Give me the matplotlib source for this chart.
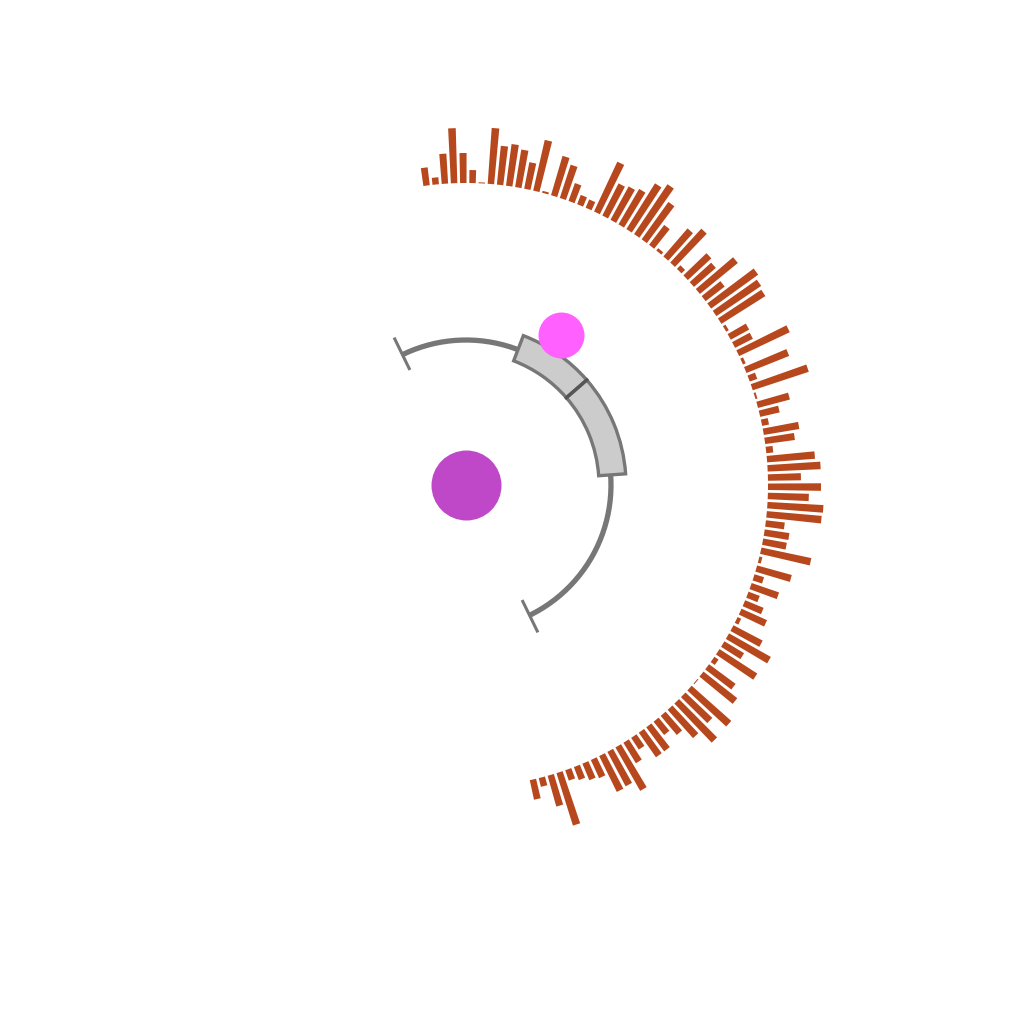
import numpy as np
import matplotlib
matplotlib.use("Agg")
import matplotlib.pyplot as plt

# outer track: bar heights (101 bins)
counts = [18, 7, 30, 55, 30, 13, 1, 56, 39, 42, 38, 27, 52, 2, 41, 35, 19, 10, 9, 55,
          36, 38, 41, 54, 60, 46, 25, 3, 37, 46, 5, 32, 29, 49, 24, 58, 54, 52, 3, 21,
          20, 56, 3, 46, 8, 59, 2, 33, 20, 7, 36, 30, 7, 48, 53, 33, 53, 41, 56, 55,
          19, 25, 24, 51, 3, 36, 10, 29, 12, 20, 28, 4, 33, 48, 23, 45, 5, 33, 43, 1,
          53, 37, 54, 38, 25, 17, 30, 30, 14, 24, 50, 39, 40, 20, 18, 14, 11, 55, 32, 9,
          20]
bin_start = -7.5      # degrees, clockwise from top
bin_step = 1.747

# inner track: span of the line and the two boxes (degrees)
span = (-26, 154)
boxes = [(21, 49), (49, 86)]

# dots: (angle deg, radius)
pink_dot = (32.3, 178)

bar_col = "#B7481D"
grey = "#777777"

fig = plt.figure(figsize=(10.24, 10.24), dpi=100)
# axes sized so one radial unit is one pixel, centre at (466, 485)
ax = fig.add_axes([(466 - 400) / 1024, (1024 - 485 - 400) / 1024, 800 / 1024, 800 / 1024],
                  projection="polar")
ax.set_theta_zero_location("N")
ax.set_theta_direction(-1)
ax.set_ylim(0, 400)
ax.set_axis_off()

theta = np.deg2rad(bin_start + np.arange(len(counts)) * bin_step)
ax.bar(theta, counts, width=np.deg2rad(bin_step) * 0.7, bottom=302,
       color=bar_col, linewidth=0)

# inner line with end ticks
t = np.deg2rad(np.linspace(span[0], span[1], 200))
ax.plot(t, np.full_like(t, 145), color=grey, lw=3.8, solid_capstyle="butt")
for a in span:
    ax.plot([np.deg2rad(a)] * 2, [128, 164], color=grey, lw=2.2, solid_capstyle="butt")

# boxes
for a0, a1 in boxes:
    ax.bar(np.deg2rad((a0 + a1) / 2), 27, width=np.deg2rad(a1 - a0), bottom=133,
           color="#CCCCCC", edgecolor=grey, linewidth=2.4, zorder=3)
ax.plot([np.deg2rad(boxes[0][1])] * 2, [133, 160], color="#555555", lw=2.4, zorder=4)

# dots
ax.scatter([np.deg2rad(pink_dot[0])], [pink_dot[1]], s=33.1 ** 2, color="#FF60FF",
           linewidth=0, zorder=5)
ax.scatter([0], [0], s=50.4 ** 2, color="#BE48C8", linewidth=0, zorder=5)

fig.savefig("out.png", dpi=100)
